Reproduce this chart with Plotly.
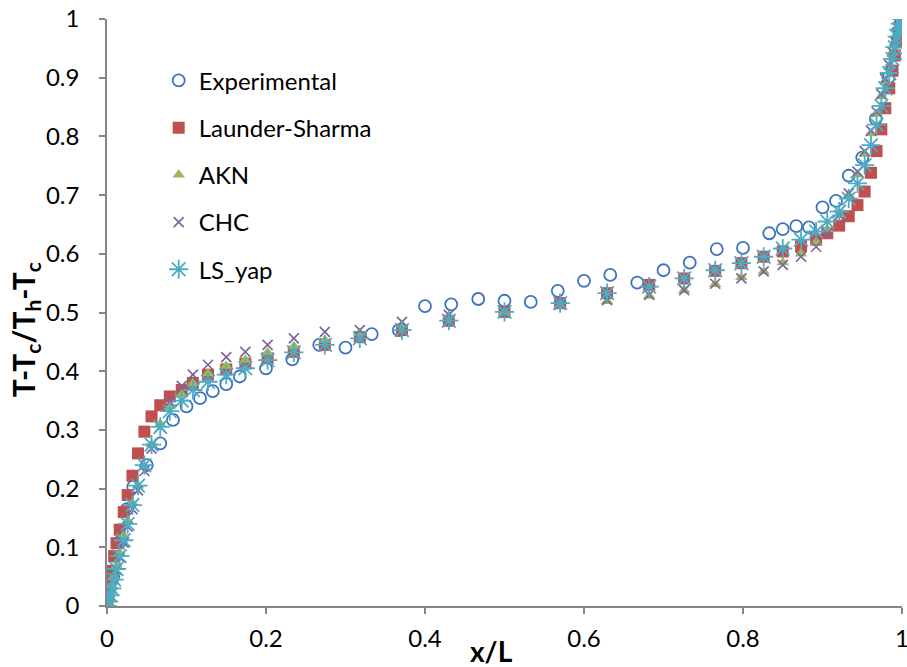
import plotly.graph_objects as go

# ---------------- data ----------------
exp_x = [0.0, 0.008, 0.017, 0.025, 0.033, 0.050, 0.067, 0.083, 0.100, 0.117, 0.133, 0.150,
         0.167, 0.200, 0.233, 0.267, 0.300, 0.333, 0.367, 0.400, 0.433, 0.467, 0.500,
         0.533, 0.567, 0.600, 0.633, 0.667, 0.700, 0.733, 0.767, 0.800, 0.833, 0.850,
         0.867, 0.883, 0.900, 0.917, 0.933, 0.950, 0.967, 0.983, 1.000]
exp_y = [0.0, 0.05, 0.11, 0.165, 0.203, 0.240, 0.277, 0.317, 0.340, 0.354, 0.366, 0.378,
         0.391, 0.405, 0.420, 0.445, 0.440, 0.463, 0.470, 0.511, 0.514, 0.523, 0.520,
         0.518, 0.537, 0.554, 0.564, 0.551, 0.572, 0.585, 0.608, 0.610, 0.635, 0.642,
         0.647, 0.645, 0.679, 0.690, 0.733, 0.764, 0.830, 0.900, 1.000]

sim_x = [0.0, 0.002, 0.004, 0.006, 0.009, 0.012, 0.016, 0.021, 0.026, 0.032, 0.039, 0.047,
         0.056, 0.067, 0.079, 0.094, 0.108, 0.127, 0.150, 0.174, 0.202, 0.235, 0.274, 0.318,
         0.371, 0.430, 0.500, 0.570, 0.629, 0.682, 0.726, 0.765, 0.798, 0.826, 0.850, 0.873,
         0.892, 0.906, 0.921, 0.933, 0.944, 0.953, 0.961, 0.968, 0.974, 0.979, 0.984, 0.988,
         0.991, 0.994, 0.996, 0.998, 1.0]

ls_y = [0.0, 0.02, 0.04, 0.06, 0.085, 0.107, 0.13, 0.16, 0.189, 0.222, 0.26, 0.297,
        0.323, 0.342, 0.357, 0.368, 0.380, 0.394, 0.403, 0.413, 0.422, 0.433, 0.445, 0.458,
        0.470, 0.486, 0.501, 0.516, 0.533, 0.547, 0.558, 0.571, 0.584, 0.595, 0.604, 0.613,
        0.624, 0.635, 0.648, 0.664, 0.683, 0.706, 0.738, 0.775, 0.812, 0.848, 0.882, 0.912,
        0.938, 0.960, 0.976, 0.990, 1.0]

akn_y = [0.0, 0.01, 0.022, 0.035, 0.05, 0.068, 0.09, 0.12, 0.145, 0.175, 0.205, 0.237,
         0.275, 0.31, 0.34, 0.36, 0.379, 0.396, 0.409, 0.419, 0.432, 0.442, 0.453, 0.465,
         0.479, 0.493, 0.500, 0.512, 0.519, 0.528, 0.538, 0.548, 0.560, 0.570, 0.585, 0.600,
         0.620, 0.642, 0.668, 0.700, 0.735, 0.770, 0.805, 0.838, 0.868, 0.895, 0.920, 0.942,
         0.960, 0.975, 0.986, 0.994, 1.0]

chc_y = [0.0, 0.008, 0.018, 0.03, 0.045, 0.062, 0.083, 0.108, 0.135, 0.165, 0.197, 0.23,
         0.268, 0.305, 0.348, 0.375, 0.394, 0.411, 0.424, 0.433, 0.445, 0.456, 0.467, 0.470,
         0.484, 0.496, 0.500, 0.514, 0.521, 0.530, 0.538, 0.549, 0.558, 0.570, 0.581, 0.595,
         0.612, 0.635, 0.666, 0.703, 0.740, 0.775, 0.810, 0.842, 0.872, 0.898, 0.922, 0.944,
         0.962, 0.977, 0.987, 0.995, 1.0]

lsyap_y = [0.0, 0.008, 0.018, 0.03, 0.045, 0.063, 0.085, 0.112, 0.14, 0.172, 0.205, 0.24,
           0.275, 0.305, 0.332, 0.35, 0.368, 0.382, 0.394, 0.405, 0.419, 0.432, 0.445, 0.456,
           0.470, 0.486, 0.501, 0.516, 0.533, 0.544, 0.558, 0.572, 0.584, 0.595, 0.609, 0.624,
           0.638, 0.655, 0.672, 0.694, 0.720, 0.751, 0.785, 0.820, 0.852, 0.882, 0.908, 0.932,
           0.952, 0.970, 0.982, 0.992, 1.0]

x_ticks = [0, 0.2, 0.4, 0.6, 0.8, 1]
x_tick_text = ["0", "0.2", "0.4", "0.6", "0.8", "1"]
y_ticks = [0, 0.1, 0.2, 0.3, 0.4, 0.5, 0.6, 0.7, 0.8, 0.9, 1]
y_tick_text = ["0", "0.1", "0.2", "0.3", "0.4", "0.5", "0.6", "0.7", "0.8", "0.9", "1"]

FONT = "Lato, 'Open Sans', sans-serif"

fig = go.Figure()
fig.add_trace(go.Scatter(x=exp_x, y=exp_y, mode="markers", name="Experimental",
                         legendgroup="a",
                         marker=dict(symbol="circle-open", size=12, color="#3F72BE",
                                     line=dict(width=1.8, color="#3F72BE"))))
fig.add_trace(go.Scatter(x=sim_x, y=ls_y, mode="markers", name="Launder-Sharma",
                         legendgroup="b",
                         marker=dict(symbol="square", size=12, color="#C0504D")))
fig.add_trace(go.Scatter(x=sim_x, y=akn_y, mode="markers", name="AKN",
                         legendgroup="c",
                         marker=dict(symbol="triangle-up", size=11, color="#9BBB59")))
fig.add_trace(go.Scatter(x=sim_x, y=chc_y, mode="markers", name="CHC",
                         legendgroup="d",
                         marker=dict(symbol="x-thin-open", size=10, color="#8064A2",
                                     line=dict(width=1.7, color="#8064A2"))))
fig.add_trace(go.Scatter(x=sim_x, y=lsyap_y, mode="markers", name="LS_yap",
                         legendgroup="e",
                         marker=dict(symbol="asterisk-open", size=16, color="#4BACC6",
                                     line=dict(width=1.8, color="#4BACC6"))))

axis_common = dict(showgrid=False, zeroline=False, showline=True, linecolor="#868686",
                   linewidth=1.5, ticks="outside", ticklen=6, tickcolor="#868686",
                   tickwidth=1.5, automargin=False, ticklabeloverflow="allow",
                   tickfont=dict(family=FONT, size=24, color="#000000"))

fig.update_layout(
    width=907, height=667,
    paper_bgcolor="white", plot_bgcolor="white",
    margin=dict(l=107, r=5, t=19, b=61),
    font=dict(family=FONT, color="#000000"),
    showlegend=True,
    legend=dict(x=0.065, y=0.933, xanchor="left", yanchor="top",
                bgcolor="rgba(0,0,0,0)", font=dict(family=FONT, size=24, color="#000000"),
                tracegroupgap=13, itemwidth=30),
    xaxis=dict(range=[0, 1], tickvals=x_ticks, ticktext=x_tick_text,
               ticklabelstandoff=4, **axis_common),
    yaxis=dict(range=[0, 1], tickvals=y_ticks, ticktext=y_tick_text,
               ticklabelstandoff=15, **axis_common),
)

fig.add_annotation(text="<b>x/L</b>", xref="paper", yref="paper", x=0.484, y=-0.076,
                   xanchor="center", yanchor="middle", showarrow=False,
                   font=dict(family=FONT, size=28, color="#000000"))
fig.add_annotation(text="<b>T-T<sub>c</sub>/T<sub>h</sub>-T<sub>c</sub></b>",
                   xref="paper", yref="paper", x=-0.103, y=0.47, xanchor="center",
                   yanchor="middle", textangle=-90, showarrow=False,
                   font=dict(family=FONT, size=30, color="#000000"))

fig.write_html("out.html",
               config={"displayModeBar": False},
               post_script="document.body.style.margin='0';"
                           "document.body.style.overflow='hidden';")
